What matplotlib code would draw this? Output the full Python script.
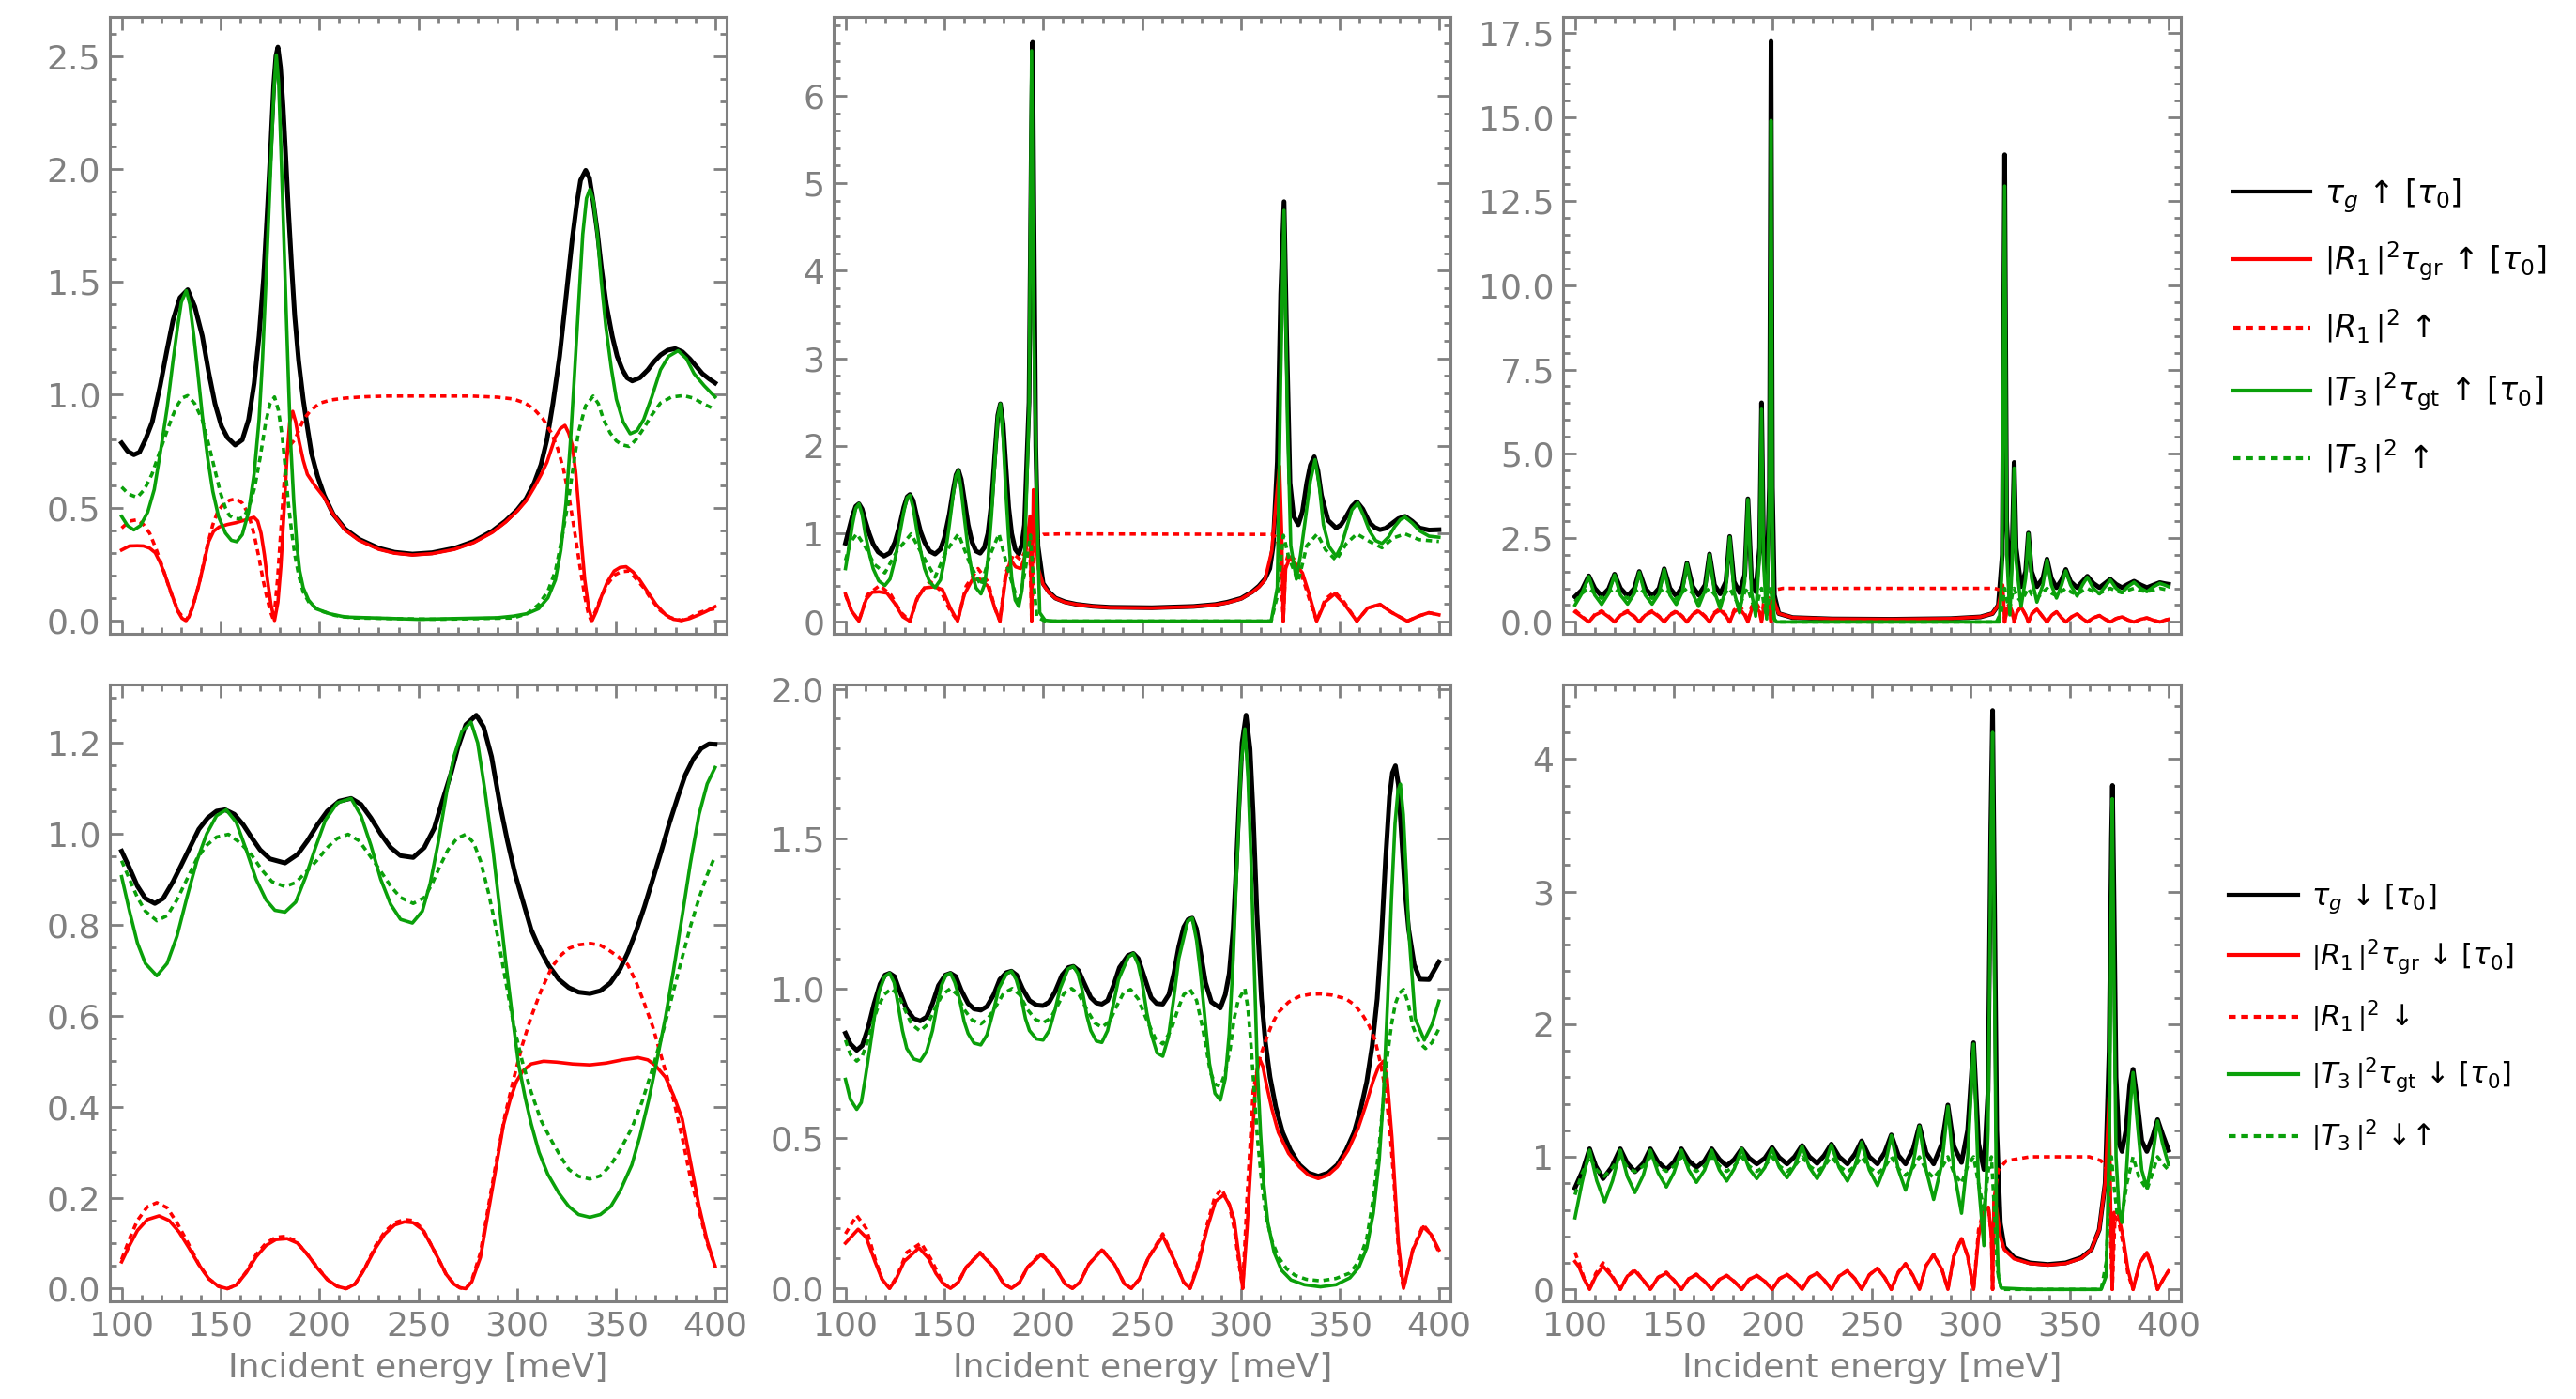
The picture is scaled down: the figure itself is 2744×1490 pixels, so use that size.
import numpy as np
import matplotlib
matplotlib.use("Agg")
import matplotlib.pyplot as plt
from matplotlib.lines import Line2D
from matplotlib.ticker import MultipleLocator

# Colours / styles
BLACK = "#000000"
RED = "#ff0000"
GREEN = "#0aa00a"
GRAY = "#808080"

# x ticks shared by all panels
x_major = 50
x_minor = 10
x_limits = (94, 406)

# ---------------- PANEL 1 (top left, spin up) ----------------
p1_tg = [(100, 0.786), (103, 0.75), (106.2, 0.734), (109, 0.745), (112, 0.8), (115.5, 0.88), (119.5, 1.04),
         (123, 1.2), (126, 1.33), (129.5, 1.43), (133.4, 1.465), (137, 1.39), (140.8, 1.26), (144, 1.1),
         (147.2, 0.96), (150.5, 0.86), (153.5, 0.81), (157.4, 0.777), (161, 0.8), (164.2, 0.89), (167, 1.05),
         (169.5, 1.26), (171.8, 1.52), (173.7, 1.82), (175.5, 2.12), (176.9, 2.375), (178, 2.5), (179, 2.54),
         (180.3, 2.45), (181.6, 2.28), (183, 2.05), (184.3, 1.82), (186, 1.56), (187.5, 1.35), (189.5, 1.15),
         (191.8, 0.98), (194, 0.85), (196, 0.74), (199, 0.64), (202.4, 0.554), (207, 0.47), (213, 0.405),
         (220, 0.36), (230, 0.32), (238, 0.302), (247, 0.294), (257, 0.3), (268.3, 0.32), (278, 0.35),
         (287.4, 0.396), (294, 0.44), (300, 0.49), (304.5, 0.54), (308.6, 0.61), (312, 0.69), (315, 0.80),
         (318, 0.96), (321.4, 1.17), (324.5, 1.42), (327.8, 1.69), (330, 1.84), (332, 1.95), (334.6, 1.994),
         (336.5, 1.96), (338.4, 1.855), (340.5, 1.72), (342.6, 1.557), (345, 1.4), (348, 1.26), (350.5, 1.17),
         (353.2, 1.11), (355.5, 1.075), (358.1, 1.061), (362, 1.075), (366, 1.11), (369, 1.145), (372.4, 1.176),
         (376, 1.197), (379.8, 1.204), (383.5, 1.19), (387.3, 1.158), (390.5, 1.125), (393.6, 1.093),
         (397, 1.07), (400, 1.052)]
p1_rtau = [(100, 0.312), (104, 0.33), (107.9, 0.331), (111, 0.33), (114.2, 0.32), (117, 0.3), (119.5, 0.256),
           (122, 0.2), (124.9, 0.126), (128.5, 0.04), (130.5, 0.01), (132.3, 0.0), (134, 0.015), (135.5, 0.05),
           (138.7, 0.145), (141.5, 0.25), (144, 0.349), (146.5, 0.395), (149.3, 0.414), (153.5, 0.425),
           (157.8, 0.433), (162.5, 0.445), (166.9, 0.457), (168.8, 0.44), (170.5, 0.386), (172.2, 0.29),
           (173.7, 0.182), (175.5, 0.07), (177.3, 0.0), (179, 0.08), (180.5, 0.238), (182.2, 0.5), (183.7, 0.74),
           (185, 0.88), (186.5, 0.926), (188, 0.88), (189.7, 0.795), (191.8, 0.71), (193.9, 0.647), (197.5, 0.6),
           (202.4, 0.545), (207, 0.47), (213, 0.4), (220, 0.355), (230, 0.315), (238, 0.298), (247, 0.29),
           (257, 0.296), (268.3, 0.315), (278, 0.345), (287.4, 0.39), (294, 0.435), (300, 0.485), (304.5, 0.53),
           (308.6, 0.59), (312, 0.645), (315, 0.70), (319.3, 0.814), (321.8, 0.85), (324.1, 0.864), (326, 0.83),
           (327.8, 0.777), (329.5, 0.66), (330.9, 0.517), (332.5, 0.34), (334.1, 0.182), (336, 0.06),
           (337.9, 0.0), (340, 0.04), (342.6, 0.108), (345.5, 0.17), (349, 0.219), (352, 0.235), (355, 0.238),
           (358.5, 0.215), (361.7, 0.182), (366, 0.125), (370.2, 0.07), (375, 0.025), (379, 0.005), (383, 0.0),
           (387, 0.008), (391.5, 0.024), (395.5, 0.04), (400, 0.061)]
p1_rsq = [(100, 0.409), (104, 0.44), (107.9, 0.446), (111, 0.425), (114.2, 0.386), (117.5, 0.315), (120.6, 0.238),
          (123.5, 0.16), (125.9, 0.099), (129, 0.035), (132.7, 0.0), (136, 0.06), (139.7, 0.182), (143, 0.32),
          (146.1, 0.424), (148.5, 0.48), (151, 0.51), (154.5, 0.532), (157.8, 0.539), (161, 0.52), (164.2, 0.47),
          (167, 0.38), (169.5, 0.275), (171.5, 0.18), (173.5, 0.1), (175.2, 0.04), (176.9, 0.0), (178.8, 0.18),
          (180.7, 0.424), (182.2, 0.62), (183.7, 0.74), (185.5, 0.78), (187.5, 0.80), (189.5, 0.84),
          (191.8, 0.888), (195.5, 0.93), (200.3, 0.963), (206, 0.977), (213, 0.985), (223, 0.991), (234.3, 0.994),
          (276.8, 0.994), (290, 0.989), (298, 0.981), (304, 0.963), (308.6, 0.935), (313, 0.893), (317.1, 0.833),
          (320.5, 0.76), (323.5, 0.665), (326.3, 0.54), (328.8, 0.405), (331.5, 0.25), (334.1, 0.108),
          (335.8, 0.035), (337.3, 0.0), (339.5, 0.04), (342.6, 0.108), (346, 0.165), (349, 0.2), (352.5, 0.216),
          (356.5, 0.219), (360, 0.185), (363.9, 0.145), (368, 0.09), (372.4, 0.043), (377, 0.013), (383, 0.0),
          (387, 0.012), (391.5, 0.033), (395.5, 0.045), (400, 0.052)]
p1_ttau = [(100, 0.461), (103, 0.42), (106.2, 0.401), (109.5, 0.42), (113.2, 0.48), (116.5, 0.58), (119.5, 0.74),
           (123, 0.94), (126, 1.15), (128.3, 1.3), (130.2, 1.41), (132.7, 1.461), (134.5, 1.4), (136.5, 1.26),
           (138.5, 1.1), (140.8, 0.907), (143.5, 0.72), (146.1, 0.572), (149, 0.46), (152.5, 0.387),
           (155.5, 0.355), (158.2, 0.349), (161, 0.38), (164.2, 0.48), (167, 0.65), (169.5, 0.89), (171.2, 1.15),
           (172.7, 1.446), (174.3, 1.78), (175.8, 2.10), (177, 2.35), (178.2, 2.505), (179.4, 2.38), (180.5, 2.10),
           (181.7, 1.78), (182.9, 1.446), (184.2, 1.1), (185.4, 0.795), (187, 0.53), (188.6, 0.331), (190, 0.22),
           (191.8, 0.145), (194.5, 0.09), (198.2, 0.052), (205, 0.03), (213, 0.015), (250, 0.005), (290, 0.012),
           (298, 0.019), (305, 0.03), (310.8, 0.052), (315.5, 0.1), (319.3, 0.18), (322, 0.31), (324.6, 0.517),
           (326.8, 0.78), (328.8, 1.07), (331, 1.4), (333.1, 1.71), (335, 1.87), (336.7, 1.91), (338.5, 1.86),
           (340.5, 1.71), (342.5, 1.5), (344.8, 1.30), (347.5, 1.12), (350.1, 0.98), (353.5, 0.88),
           (357.1, 0.827), (360.5, 0.84), (363.9, 0.89), (368, 0.99), (372.4, 1.11), (376.5, 1.17),
           (381.3, 1.195), (385.5, 1.16), (389.4, 1.093), (394.5, 1.04), (400, 0.99)]
p1_tsq = [(100, 0.591), (103.5, 0.56), (107.9, 0.545), (111.5, 0.58), (115.3, 0.647), (119, 0.74), (122.7, 0.833),
          (125.5, 0.9), (128, 0.95), (130.5, 0.985), (133.4, 0.996), (137, 0.96), (140.8, 0.888), (144, 0.78),
          (147.2, 0.665), (150, 0.565), (152.5, 0.498), (154.5, 0.465), (156.7, 0.452), (159.5, 0.45),
          (162, 0.46), (164.7, 0.51), (167.3, 0.59), (170, 0.72), (172.7, 0.87), (175, 0.96), (177.3, 0.99),
          (179.3, 0.93), (181.2, 0.814), (182.8, 0.67), (184.3, 0.517), (186, 0.39), (187.5, 0.294), (189.5, 0.2),
          (191.8, 0.126), (195, 0.075), (200.3, 0.043), (208, 0.022), (217.3, 0.011), (260, 0.005), (298, 0.011),
          (305, 0.03), (310.8, 0.07), (315.5, 0.13), (319.3, 0.22), (322.5, 0.36), (325.6, 0.517), (328.3, 0.68),
          (330.9, 0.833), (334.5, 0.95), (338.4, 0.994), (341, 0.96), (343.7, 0.888), (347, 0.83), (350.1, 0.795),
          (353, 0.778), (356.5, 0.771), (360, 0.8), (363.9, 0.851), (368, 0.91), (372.4, 0.963), (378, 0.99),
          (384.1, 0.996), (389, 0.985), (394, 0.96), (400, 0.935)]

# ---------------- PANEL 2 (top middle, spin up) ----------------
p2_tg = [(100, 0.89), (101.8, 1.05), (103.5, 1.2), (105.2, 1.31), (106.8, 1.34), (108.4, 1.28), (110, 1.15),
         (112, 1.0), (114, 0.88), (116.5, 0.79), (119.5, 0.742), (122.5, 0.78), (125, 0.9), (127.5, 1.1),
         (129.5, 1.3), (131.2, 1.42), (132.6, 1.446), (134.2, 1.38), (136, 1.2), (138, 1.02), (140, 0.9),
         (142.5, 0.8), (145.3, 0.766), (148, 0.82), (150, 0.95), (152.5, 1.22), (154.5, 1.5), (155.9, 1.67),
         (157.1, 1.724), (158.5, 1.62), (160, 1.4), (162, 1.1), (164, 0.9), (166, 0.8), (168.1, 0.776),
         (170.2, 0.84), (172, 1.0), (173.8, 1.35), (175.5, 1.9), (177, 2.35), (178.3, 2.481), (179.7, 2.25),
         (181, 1.8), (182.5, 1.3), (184, 1.0), (185.8, 0.82), (187.6, 0.766), (189.2, 0.88), (190.5, 1.1),
         (192.8, 2.5), (194.0, 5.5), (194.6, 6.609), (195.3, 4.5), (196.2, 2.0), (197.3, 0.86), (199.9, 0.431),
         (203, 0.33), (206.2, 0.263), (211, 0.22), (216.8, 0.192), (225, 0.17), (233.7, 0.158), (254.9, 0.153),
         (276, 0.168), (287, 0.19), (293, 0.216), (300, 0.26), (305.6, 0.335), (309, 0.4), (312, 0.479),
         (314.5, 0.6), (316.2, 0.862), (318.3, 1.82), (320, 3.736), (321.7, 4.789), (323, 3.257), (324.7, 1.58),
         (326.5, 1.2), (328.9, 1.10), (331, 1.25), (333.2, 1.58), (335, 1.78), (337, 1.877), (338.8, 1.72),
         (340.6, 1.437), (344, 1.15), (348, 1.063), (350.5, 1.1), (353.2, 1.197), (356, 1.31), (358.5, 1.365),
         (361.5, 1.28), (364.9, 1.125), (367.5, 1.07), (370.2, 1.044), (373, 1.06), (376, 1.11), (379.5, 1.17),
         (382.9, 1.197), (386.5, 1.14), (390.3, 1.063), (395, 1.04), (400, 1.044)]
p2_rtau = [(100, 0.311), (103, 0.12), (106.8, 0.0), (110.5, 0.25), (113.5, 0.33), (117, 0.335), (121, 0.32),
           (125, 0.2), (129, 0.05), (132.6, 0.0), (136, 0.25), (140, 0.38), (145, 0.393), (149, 0.36), (153, 0.15),
           (156.7, 0.0), (160, 0.3), (164, 0.47), (168, 0.479), (172, 0.4), (175.5, 0.15), (178.1, 0.0), (181, 0.5),
           (183.5, 0.7), (186, 0.62), (188.5, 0.6), (191, 0.75), (193.3, 1.2), (194.1, 0.0), (195.0, 1.5),
           (196, 1.0), (197.5, 0.6), (199.9, 0.42), (203, 0.32), (206.2, 0.26), (211, 0.215), (216.8, 0.19),
           (225, 0.168), (233.7, 0.155), (254.9, 0.15), (276, 0.165), (287, 0.187), (293, 0.21), (300, 0.255),
           (305.6, 0.33), (309, 0.39), (312, 0.47), (315.5, 0.8), (317.8, 1.4), (319.4, 1.77), (320.5, 1.0),
           (321.3, 0.0), (322.5, 0.6), (324.5, 0.72), (327.8, 0.65), (331, 0.55), (334.5, 0.3), (338.2, 0.0),
           (342.5, 0.22), (347.3, 0.311), (352, 0.2), (358.5, 0.0), (364, 0.15), (370.2, 0.192), (376, 0.1),
           (384, 0.0), (390, 0.06), (394.9, 0.096), (400, 0.072)]
p2_rsq = [(100, 0.3), (103, 0.12), (106.8, 0.0), (111, 0.3), (117.3, 0.407), (123, 0.3), (128, 0.1), (132.6, 0.0),
          (137, 0.3), (142.7, 0.455), (148, 0.35), (153, 0.12), (156.7, 0.0), (161, 0.4), (167, 0.6), (172, 0.45),
          (175.5, 0.15), (178.1, 0.0), (181, 0.55), (185, 0.766), (188.5, 0.7), (191, 0.8), (193.2, 0.9),
          (194.1, 0.0), (195.3, 0.8), (197, 0.95), (199.9, 0.99), (210, 0.996), (316, 0.99), (318, 0.95),
          (319.5, 0.8), (320.5, 0.4), (321.3, 0.0), (322.5, 0.65), (324, 0.78), (327, 0.7), (331, 0.5),
          (334.5, 0.25), (338.2, 0.0), (342.5, 0.25), (347.3, 0.335), (352, 0.22), (358.5, 0.0), (364, 0.15),
          (370.2, 0.19), (376, 0.1), (384, 0.0), (390, 0.06), (394.9, 0.096), (400, 0.072)]
p2_ttau = [(100, 0.6), (101.8, 0.85), (103.5, 1.1), (105.2, 1.29), (106.8, 1.34), (108.4, 1.22), (110, 1.0),
           (112, 0.78), (114, 0.6), (116.8, 0.46), (119.9, 0.407), (122.5, 0.48), (125, 0.7), (127.3, 0.98),
           (129.5, 1.25), (131.2, 1.41), (132.6, 1.437), (134.2, 1.3), (136, 1.05), (138, 0.8), (140, 0.6),
           (142.5, 0.45), (145.3, 0.383), (148, 0.47), (150, 0.7), (152.4, 1.08), (154.5, 1.45), (155.9, 1.66),
           (157.1, 1.715), (158.5, 1.5), (160, 1.2), (162, 0.82), (164, 0.55), (166, 0.38), (168.5, 0.311),
           (170.3, 0.42), (172, 0.7), (173.8, 1.2), (175.5, 1.8), (177, 2.33), (178.3, 2.481), (179.7, 2.1),
           (181, 1.5), (182.5, 0.95), (184, 0.5), (185.8, 0.24), (187.6, 0.168), (189.2, 0.35), (190.5, 0.7),
           (192.8, 2.4), (194.1, 6.513), (195.1, 3.5), (196.7, 1.34), (198.2, 0.096), (200.9, 0.01), (205, 0.0),
           (315.2, 0.0), (318.3, 0.383), (320, 2.78), (321.7, 4.69), (323.4, 2.30), (325.1, 0.862), (327.9, 0.479),
           (330, 0.75), (332.1, 1.10), (335, 1.6), (337.4, 1.844), (339.5, 1.55), (341.6, 1.10), (344.5, 0.85),
           (348, 0.742), (350.5, 0.85), (353.2, 1.054), (356, 1.27), (359, 1.35), (362, 1.2), (364.9, 1.03),
           (368, 0.92), (371.2, 0.886), (374.5, 0.96), (377.6, 1.078), (380.5, 1.16), (382.9, 1.188),
           (386.5, 1.12), (390.3, 1.03), (395, 0.97), (400, 0.958)]
p2_tsq = [(100, 0.694), (102.5, 0.9), (105.7, 0.996), (110, 0.85), (114.5, 0.65), (119.9, 0.551), (126, 0.8),
          (133.2, 0.996), (139, 0.75), (145.3, 0.503), (151, 0.8), (157.1, 0.996), (163, 0.65), (168.5, 0.407),
          (173, 0.75), (177.6, 0.996), (182, 0.6), (187.6, 0.192), (191, 0.6), (193.5, 0.982), (194.6, 0.6),
          (196.7, 0.05), (200.9, 0.0), (315.2, 0.0), (318.3, 0.287), (321.4, 0.98), (324.2, 0.718), (328.9, 0.455),
          (333.2, 0.862), (338.5, 0.996), (342.7, 0.814), (348, 0.694), (353.2, 0.886), (358.5, 0.996),
          (364.9, 0.91), (371.2, 0.838), (377, 0.95), (382.9, 0.996), (390, 0.93), (400, 0.91)]

# ---------------- PANEL 3 (top right, spin up) ----------------
p3_tg = [(100, 0.75), (103.5, 0.95), (107, 1.37), (110, 1.0), (113.5, 0.77), (117, 0.98), (120, 1.42), (123, 1.0),
         (126.6, 0.77), (130, 1.0), (132.5, 1.5), (135.5, 1.0), (139, 0.77), (142.5, 1.0), (145.1, 1.58),
         (148, 1.0), (151.2, 0.77), (154.3, 1.05), (156.6, 1.75), (159.5, 1.05), (162.5, 0.8), (165.8, 1.1),
         (168, 2.02), (170.5, 1.1), (173.4, 0.835), (176.3, 1.2), (178.2, 2.54), (180.4, 1.2), (183.2, 0.87),
         (185.8, 1.4), (187.4, 3.66), (189.2, 1.3), (191.3, 0.9), (193.3, 2.2), (194.3, 6.51), (195.3, 2.2),
         (196.9, 0.95), (198.3, 4.0), (199.1, 17.25), (199.8, 4.0), (200.8, 0.8), (203, 0.25), (210, 0.13),
         (230, 0.09), (260, 0.08), (290, 0.1), (305, 0.15), (311, 0.25), (314, 0.5), (316, 2.0), (317.2, 13.88),
         (318.2, 3.0), (319.8, 1.08), (321, 2.2), (322, 4.74), (323, 2.2), (325.5, 1.05), (327.8, 1.5),
         (329.2, 2.64), (330.8, 1.5), (333.5, 1.05), (336.5, 1.3), (338.6, 1.87), (340.8, 1.3), (343.4, 1.02),
         (346, 1.25), (348.1, 1.56), (350.5, 1.2), (353.8, 1.02), (356.5, 1.2), (359, 1.36), (362, 1.15),
         (365.1, 1.02), (368, 1.15), (370.6, 1.27), (373.5, 1.12), (376.5, 1.02), (379.5, 1.12), (382.6, 1.21),
         (386, 1.1), (389.1, 1.02), (392.5, 1.1), (395.6, 1.17), (398, 1.14), (400, 1.12)]
p3_rtau = [(100, 0.3), (103.5, 0.15), (107, 0.0), (110, 0.2), (113.5, 0.3), (117, 0.15), (120, 0.0), (123, 0.2),
           (126.6, 0.3), (130, 0.15), (132.5, 0.0), (135.5, 0.2), (139, 0.3), (142.5, 0.15), (145.1, 0.0),
           (148, 0.2), (151.2, 0.3), (154.3, 0.15), (156.6, 0.0), (159.5, 0.22), (162.5, 0.32), (165.8, 0.15),
           (168, 0.0), (170.5, 0.25), (173.4, 0.35), (176.3, 0.18), (178.2, 0.0), (180.4, 0.3), (183.2, 0.4),
           (185.8, 0.2), (187.4, 0.0), (189.2, 0.35), (191.3, 0.45), (193.3, 0.3), (194.3, 0.0), (195.3, 0.4),
           (196.9, 0.5), (198.3, 0.6), (199.1, 0.0), (199.8, 0.9), (200.8, 0.6), (203, 0.25), (210, 0.13),
           (230, 0.09), (260, 0.08), (290, 0.1), (305, 0.15), (311, 0.25), (314, 0.5), (316.2, 1.1), (317.2, 0.0),
           (318.5, 0.4), (319.8, 0.5), (321, 0.3), (322, 0.0), (323.5, 0.3), (325.5, 0.45), (327.8, 0.2),
           (329.2, 0.0), (331, 0.25), (333.5, 0.38), (336.5, 0.15), (338.6, 0.0), (341, 0.2), (343.4, 0.3),
           (346, 0.12), (348.1, 0.0), (351, 0.15), (353.8, 0.24), (356.5, 0.1), (359, 0.0), (362, 0.12),
           (365.1, 0.19), (368, 0.08), (370.6, 0.0), (373.5, 0.1), (376.5, 0.15), (379.5, 0.06), (382.6, 0.0),
           (386, 0.08), (389.1, 0.12), (392.5, 0.05), (395.6, 0.0), (398, 0.05), (400, 0.08)]
p3_rsq = [(100, 0.35), (103.5, 0.17), (107, 0.0), (110, 0.22), (113.5, 0.33), (117, 0.17), (120, 0.0), (123, 0.22),
          (126.6, 0.33), (130, 0.17), (132.5, 0.0), (135.5, 0.22), (139, 0.33), (142.5, 0.17), (145.1, 0.0),
          (148, 0.22), (151.2, 0.33), (154.3, 0.17), (156.6, 0.0), (159.5, 0.24), (162.5, 0.35), (165.8, 0.17),
          (168, 0.0), (170.5, 0.28), (173.4, 0.4), (176.3, 0.2), (178.2, 0.0), (180.4, 0.35), (183.2, 0.5),
          (185.8, 0.25), (187.4, 0.0), (189.2, 0.45), (191.3, 0.6), (193.3, 0.4), (194.3, 0.0), (195.3, 0.55),
          (196.9, 0.75), (198.3, 0.7), (199.1, 0.0), (199.8, 0.8), (201, 0.95), (205, 1.0), (312, 1.0),
          (315, 0.95), (316.5, 0.6), (317.2, 0.0), (318.5, 0.45), (319.8, 0.55), (321, 0.3), (322, 0.0),
          (323.5, 0.3), (325.5, 0.45), (327.8, 0.2), (329.2, 0.0), (331, 0.25), (333.5, 0.38), (336.5, 0.15),
          (338.6, 0.0), (341, 0.2), (343.4, 0.3), (346, 0.12), (348.1, 0.0), (351, 0.15), (353.8, 0.24),
          (356.5, 0.1), (359, 0.0), (362, 0.12), (365.1, 0.19), (368, 0.08), (370.6, 0.0), (373.5, 0.1),
          (376.5, 0.15), (379.5, 0.06), (382.6, 0.0), (386, 0.08), (389.1, 0.12), (392.5, 0.05), (395.6, 0.0),
          (398, 0.05), (400, 0.08)]
p3_ttau = [(100, 0.5), (103.5, 0.85), (107, 1.35), (110, 0.8), (113.5, 0.52), (117, 0.85), (120, 1.4), (123, 0.8),
           (126.6, 0.53), (130, 0.85), (132.5, 1.48), (135.5, 0.8), (139, 0.53), (142.5, 0.85), (145.1, 1.56),
           (148, 0.8), (151.2, 0.52), (154.3, 0.9), (156.6, 1.73), (159.5, 0.85), (162.5, 0.46), (165.8, 0.95),
           (168, 2.0), (170.5, 0.9), (173.4, 0.4), (176.3, 1.0), (178.2, 2.52), (180.4, 0.9), (183.2, 0.27),
           (185.8, 1.2), (187.4, 3.64), (189.2, 0.9), (191.3, 0.17), (193.3, 2.0), (194.3, 6.32), (195.3, 1.8),
           (196.9, 0.09), (198.3, 3.8), (199.1, 14.9), (199.8, 3.0), (200.6, 0.1), (202, 0.0), (314.5, 0.0),
           (315.8, 1.5), (317.2, 12.95), (318.3, 2.0), (319.8, 0.21), (321, 1.8), (322, 4.57), (323, 1.8),
           (325.5, 0.46), (327.8, 1.3), (329.2, 2.62), (330.8, 1.3), (333.5, 0.59), (336.5, 1.1), (338.6, 1.84),
           (340.8, 1.1), (343.4, 0.71), (346, 1.1), (348.1, 1.52), (350.5, 1.1), (353.8, 0.77), (356.5, 1.1),
           (359, 1.33), (362, 1.0), (365.1, 0.835), (368, 1.05), (370.6, 1.25), (373.5, 1.0), (376.5, 0.87),
           (379.5, 1.05), (382.6, 1.18), (386, 1.0), (389.1, 0.9), (392.5, 1.05), (395.6, 1.15), (398, 1.1),
           (400, 1.05)]
p3_tsq = [(100, 0.6), (103.5, 0.85), (107, 1.0), (110, 0.85), (113.5, 0.7), (117, 0.88), (120, 1.0), (123, 0.85),
          (126.6, 0.7), (130, 0.88), (132.5, 1.0), (135.5, 0.85), (139, 0.7), (142.5, 0.88), (145.1, 1.0),
          (148, 0.85), (151.2, 0.68), (154.3, 0.88), (156.6, 1.0), (159.5, 0.85), (162.5, 0.65), (165.8, 0.88),
          (168, 1.0), (170.5, 0.82), (173.4, 0.58), (176.3, 0.88), (178.2, 1.0), (180.4, 0.75), (183.2, 0.45),
          (185.8, 0.88), (187.4, 1.0), (189.2, 0.65), (191.3, 0.3), (193.3, 0.85), (194.3, 1.0), (195.3, 0.6),
          (196.9, 0.15), (198.3, 0.8), (199.1, 1.0), (199.8, 0.4), (201, 0.05), (204, 0.0), (313, 0.0),
          (315.5, 0.3), (317.2, 1.0), (318.5, 0.6), (319.8, 0.4), (321, 0.8), (322, 1.0), (323.5, 0.75),
          (325.5, 0.6), (327.8, 0.85), (329.2, 1.0), (331, 0.8), (333.5, 0.7), (336.5, 0.88), (338.6, 1.0),
          (341, 0.85), (343.4, 0.78), (346, 0.9), (348.1, 1.0), (351, 0.88), (353.8, 0.82), (356.5, 0.92),
          (359, 1.0), (362, 0.9), (365.1, 0.85), (368, 0.93), (370.6, 1.0), (373.5, 0.92), (376.5, 0.87),
          (379.5, 0.94), (382.6, 1.0), (386, 0.93), (389.1, 0.9), (392.5, 0.95), (395.6, 1.0), (398, 0.97),
          (400, 0.95)]

# ---------------- PANEL 4 (bottom left, spin down) ----------------
p4_tg = [(100, 0.962), (104, 0.925), (108, 0.885), (112, 0.858), (116.8, 0.847), (121, 0.858), (126, 0.895),
         (130, 0.93), (134.5, 0.97), (139, 1.01), (143.5, 1.035), (148, 1.05), (152.3, 1.053), (157, 1.043),
         (161.5, 1.02), (166, 0.99), (170, 0.965), (175, 0.945), (182.6, 0.936), (189, 0.955), (194, 0.985),
         (199, 1.02), (204, 1.05), (210, 1.072), (216, 1.078), (221, 1.065), (226, 1.035), (231, 1.0),
         (236, 0.97), (241, 0.952), (247.4, 0.948), (253, 0.97), (258, 1.012), (262, 1.07), (266.6, 1.134),
         (270, 1.19), (274, 1.24), (279.3, 1.261), (283, 1.235), (287, 1.17), (291, 1.07), (295, 0.985),
         (299, 0.91), (303, 0.85), (307, 0.79), (311, 0.75), (316, 0.71), (321, 0.68), (326, 0.662), (331, 0.652),
         (336.7, 0.649), (342, 0.655), (347, 0.672), (352, 0.703), (356, 0.74), (360, 0.785), (364.3, 0.84),
         (368.5, 0.9), (372.8, 0.962), (377, 1.025), (381.3, 1.083), (385, 1.13), (389, 1.165), (393, 1.188),
         (397, 1.198), (400, 1.197)]
p4_rtau = [(100, 0.059), (104, 0.095), (108, 0.128), (113, 0.152), (118.9, 0.16), (124, 0.15), (129, 0.125),
           (134, 0.09), (139, 0.053), (144, 0.022), (149, 0.005), (153.5, 0.0), (158, 0.008), (163, 0.035),
           (168, 0.07), (173, 0.095), (178, 0.108), (183.7, 0.11), (189, 0.1), (194, 0.075), (199, 0.045),
           (204, 0.02), (209, 0.005), (213.5, 0.0), (218, 0.01), (223, 0.045), (228.3, 0.089), (233, 0.12),
           (238, 0.14), (243, 0.147), (247.4, 0.145), (252, 0.13), (256, 0.1), (260.2, 0.065), (264, 0.032),
           (268, 0.01), (271, 0.002), (274, 0.0), (277, 0.015), (281.4, 0.069), (285, 0.16), (289.9, 0.282),
           (293, 0.36), (296.3, 0.414), (299.5, 0.455), (302.7, 0.478), (307, 0.494), (313.3, 0.5), (320, 0.498),
           (328, 0.494), (336.7, 0.492), (345, 0.496), (353, 0.503), (361.1, 0.508), (366, 0.503), (370, 0.49),
           (374.9, 0.465), (379, 0.425), (383.4, 0.373), (387.5, 0.28), (391.9, 0.181), (396, 0.105), (400, 0.049)]
p4_rsq = [(100, 0.064), (104, 0.11), (108, 0.15), (113, 0.18), (117.8, 0.189), (123, 0.178), (128, 0.145),
          (133, 0.105), (139, 0.054), (144, 0.022), (149, 0.005), (153.5, 0.0), (158, 0.008), (163, 0.037),
          (168, 0.075), (173, 0.1), (178, 0.113), (182.6, 0.115), (188, 0.105), (193, 0.08), (198.6, 0.049),
          (204, 0.02), (209, 0.005), (213.5, 0.0), (218, 0.01), (223, 0.045), (228.3, 0.094), (233, 0.125),
          (238, 0.145), (243, 0.152), (247, 0.15), (252, 0.133), (256, 0.1), (260.2, 0.065), (264, 0.032),
          (268, 0.01), (271, 0.002), (274, 0.0), (277, 0.018), (281.4, 0.079), (285, 0.17), (289.9, 0.292),
          (294, 0.385), (298.4, 0.465), (302.5, 0.535), (306.9, 0.596), (312, 0.655), (317.6, 0.708), (322, 0.733),
          (326, 0.748), (331, 0.756), (337.1, 0.759), (342, 0.755), (346, 0.745), (351, 0.73), (355.8, 0.713),
          (360, 0.675), (364, 0.63), (368.5, 0.576), (373.5, 0.5), (379.1, 0.414), (383.5, 0.33), (387.7, 0.241),
          (392, 0.17), (396, 0.1), (400, 0.049)]
p4_ttau = [(100, 0.906), (104, 0.83), (108, 0.76), (112, 0.715), (117.8, 0.688), (123, 0.715), (128, 0.775),
           (133, 0.86), (138, 0.94), (143, 1.0), (148, 1.04), (152.9, 1.053), (158, 1.025), (163, 0.965),
           (168, 0.9), (173, 0.855), (177.5, 0.832), (182.6, 0.828), (188, 0.85), (193, 0.905), (198, 0.97),
           (203, 1.03), (209, 1.068), (216, 1.078), (221, 1.04), (226, 0.975), (231, 0.9), (236, 0.845),
           (241, 0.812), (247, 0.804), (252, 0.83), (256, 0.891), (260, 0.98), (264.4, 1.094), (268, 1.17),
           (272, 1.225), (276.6, 1.246), (280, 1.2), (283.5, 1.1), (287.8, 0.962), (291, 0.84), (294.2, 0.718),
           (297.5, 0.6), (300.6, 0.495), (304, 0.42), (307, 0.363), (311, 0.3), (315.4, 0.252), (321, 0.21),
           (326, 0.181), (331, 0.163), (336.7, 0.157), (342, 0.163), (347.3, 0.181), (352, 0.215), (357.9, 0.272),
           (362, 0.335), (366.4, 0.414), (370.5, 0.5), (374.9, 0.596), (379, 0.7), (383.4, 0.82), (387.5, 0.935),
           (391.9, 1.043), (396, 1.11), (400, 1.146)]
p4_tsq = [(100, 0.941), (104, 0.9), (108, 0.86), (112, 0.83), (117.8, 0.809), (123, 0.82), (128, 0.855),
          (133, 0.9), (138, 0.945), (143, 0.975), (148, 0.993), (154, 0.999), (160, 0.98), (166, 0.952),
          (171, 0.92), (176, 0.895), (182.6, 0.884), (188, 0.893), (193, 0.915), (198.6, 0.941), (204, 0.97),
          (209, 0.99), (214.5, 0.999), (220, 0.985), (225, 0.955), (230.5, 0.921), (236, 0.885), (241, 0.86),
          (247.4, 0.847), (253, 0.86), (257, 0.89), (261, 0.93), (265, 0.965), (269.5, 0.99), (274, 0.999),
          (278, 0.98), (281.4, 0.941), (285.5, 0.87), (289.9, 0.779), (294, 0.68), (298.4, 0.576), (302.5, 0.5),
          (306.9, 0.434), (312, 0.37), (317.6, 0.323), (322, 0.29), (326.1, 0.262), (331, 0.247), (336.7, 0.241),
          (342, 0.248), (347.3, 0.272), (352, 0.305), (357.9, 0.353), (363, 0.41), (368.5, 0.485), (374, 0.57),
          (379.1, 0.657), (383.5, 0.73), (387.7, 0.799), (392, 0.86), (396, 0.91), (400, 0.951)]

# ---------------- PANEL 5 (bottom middle, spin down) ----------------
p5_tg = [(100, 0.851), (102.5, 0.815), (105.7, 0.794), (108.5, 0.81), (111.5, 0.87), (114.5, 0.95),
         (117.5, 1.015), (120, 1.045), (122.3, 1.051), (124.8, 1.04), (127.5, 0.99), (131, 0.93), (134.5, 0.9),
         (137.8, 0.892), (141, 0.905), (144, 0.95), (147, 1.01), (150.5, 1.045), (153.1, 1.051), (155.8, 1.04),
         (158.5, 0.995), (162, 0.95), (165, 0.932), (168.4, 0.928), (171.5, 0.94), (175, 0.98), (178, 1.03),
         (181.3, 1.053), (183.9, 1.058), (186.5, 1.045), (189.5, 1.0), (193, 0.96), (196.5, 0.945),
         (199.9, 0.943), (203, 0.955), (206, 0.99), (209.5, 1.045), (212.7, 1.07), (215.2, 1.074),
         (217.8, 1.06), (220.5, 1.02), (224, 0.97), (226.8, 0.952), (229.6, 0.948), (232.5, 0.96),
         (235.5, 1.01), (238.5, 1.07), (242.8, 1.11), (245.5, 1.117), (248, 1.1), (251, 1.04), (254.5, 0.97),
         (257.3, 0.95), (260.4, 0.948), (263.5, 0.98), (266, 1.05), (268.5, 1.14), (271, 1.205), (273.2, 1.23),
         (275.3, 1.235), (277.4, 1.2), (279.5, 1.12), (282, 1.02), (285, 0.955), (289.5, 0.935), (292, 0.98),
         (294, 1.05), (296, 1.2), (297.5, 1.4), (299, 1.62), (300.5, 1.82), (302.5, 1.912), (304.5, 1.8),
         (306.1, 1.582), (308, 1.25), (310.3, 0.966), (312.3, 0.82), (314.6, 0.705), (317.5, 0.605), (321, 0.52),
         (325, 0.46), (329.5, 0.412), (334, 0.385), (339, 0.374), (344, 0.385), (348.6, 0.412), (353, 0.46),
         (357.1, 0.52), (360.5, 0.6), (363.5, 0.689), (366.3, 0.81), (368.8, 0.966), (371, 1.18), (373, 1.428),
         (375, 1.64), (376.5, 1.72), (378, 1.743), (379.5, 1.68), (381, 1.52), (382.8, 1.33), (384.7, 1.197),
         (387.5, 1.08), (390.4, 1.031), (395, 1.03), (400, 1.089)]
p5_rtau = [(100, 0.151), (106.4, 0.197), (110.5, 0.17), (114.9, 0.09), (118.5, 0.03), (122.3, 0.0), (125.5, 0.03),
           (129.7, 0.09), (137.2, 0.135), (142, 0.1), (145.7, 0.05), (149.5, 0.015), (153.1, 0.0), (157, 0.02),
           (161, 0.07), (168, 0.117), (175, 0.07), (180, 0.015), (183.9, 0.0), (188, 0.02), (192, 0.07),
           (198.8, 0.112), (206, 0.07), (211, 0.015), (214.7, 0.0), (218.5, 0.02), (223, 0.08), (229.6, 0.128),
           (236, 0.08), (241, 0.015), (244.5, 0.0), (248.5, 0.03), (253, 0.1), (260.4, 0.174), (266.5, 0.09),
           (271, 0.02), (274.2, 0.0), (278, 0.07), (282.7, 0.197), (287, 0.29), (291.2, 0.312), (294, 0.28),
           (296.5, 0.228), (299, 0.1), (300.8, 0.0), (303, 0.2), (305, 0.428), (307.5, 0.7), (309.3, 0.766),
           (311, 0.74), (312.5, 0.689), (315.5, 0.6), (318.8, 0.52), (324, 0.45), (329.5, 0.405), (334, 0.378),
           (339, 0.366), (344, 0.378), (348.6, 0.405), (354, 0.46), (359.2, 0.535), (363, 0.61), (366.6, 0.689),
           (369.5, 0.74), (372, 0.758), (373.8, 0.7), (376.2, 0.505), (379.5, 0.15), (382.1, 0.0), (386.8, 0.128),
           (392.1, 0.205), (396, 0.18), (400, 0.128)]
p5_rsq = [(100, 0.182), (105.7, 0.243), (110.5, 0.2), (114.9, 0.1), (118.5, 0.03), (122.3, 0.0), (126, 0.04),
          (131, 0.12), (138.2, 0.151), (143, 0.1), (149, 0.02), (153.1, 0.0), (157, 0.02), (161, 0.07), (168, 0.12),
          (175, 0.07), (180, 0.015), (183.9, 0.0), (188, 0.02), (192, 0.07), (198.8, 0.117), (206, 0.07),
          (211, 0.015), (214.7, 0.0), (218.5, 0.02), (223, 0.08), (229.6, 0.131), (236, 0.08), (241, 0.015),
          (244.5, 0.0), (248.5, 0.03), (253, 0.1), (260.4, 0.182), (266.5, 0.09), (271, 0.02), (274.2, 0.0),
          (278, 0.08), (282.7, 0.21), (286.5, 0.3), (290.1, 0.332), (294, 0.28), (296.5, 0.2), (299, 0.08),
          (300.8, 0.0), (303, 0.3), (306.1, 0.658), (309, 0.76), (312.5, 0.828), (315.5, 0.88), (318.8, 0.92),
          (324, 0.955), (329.5, 0.974), (335, 0.981), (340.1, 0.982), (346, 0.978), (352.9, 0.966),
          (357.5, 0.945), (361.4, 0.912), (364.8, 0.875), (367.7, 0.828), (370.5, 0.75), (373, 0.658),
          (375.3, 0.52), (377.3, 0.351), (379, 0.18), (380.5, 0.06), (382.1, 0.0), (386.8, 0.13), (392.1, 0.212),
          (396, 0.18), (400, 0.12)]
p5_ttau = [(100, 0.697), (102.5, 0.63), (105.7, 0.597), (108, 0.62), (110, 0.7), (112.3, 0.8), (114.5, 0.9),
           (117, 0.99), (119.8, 1.04), (122.3, 1.051), (124.6, 1.02), (126.5, 0.95), (128.8, 0.86), (131, 0.8),
           (134.5, 0.765), (137.8, 0.758), (141, 0.79), (144, 0.86), (146.5, 0.95), (148.5, 1.01), (150.8, 1.045),
           (153.1, 1.051), (155.3, 1.02), (157.5, 0.97), (160, 0.89), (162, 0.85), (165, 0.818), (168.4, 0.812),
           (171.5, 0.845), (175, 0.93), (177.5, 1.0), (181.5, 1.05), (183.9, 1.058), (186.3, 1.03), (188.5, 0.98),
           (191, 0.9), (193, 0.86), (196.5, 0.832), (199.9, 0.828), (203, 0.86), (206, 0.93), (208.5, 1.0),
           (212.5, 1.065), (215.2, 1.074), (217.5, 1.05), (219.5, 1.0), (222, 0.91), (224, 0.86), (226.8, 0.825),
           (229.6, 0.82), (232.5, 0.86), (235.5, 0.95), (238, 1.03), (243, 1.105), (245.5, 1.117), (248, 1.08),
           (250, 1.02), (252.3, 0.92), (254.5, 0.85), (257.5, 0.785), (260.4, 0.774), (263.3, 0.84), (266, 0.97),
           (268.5, 1.1), (273, 1.225), (275.3, 1.235), (277.5, 1.16), (279.5, 1.05), (282, 0.88), (284, 0.75),
           (286.8, 0.65), (289.5, 0.628), (292, 0.7), (294, 0.85), (296, 1.1), (297.5, 1.35), (300, 1.75),
           (301.9, 1.866), (303.5, 1.7), (305, 1.428), (308.2, 0.735), (309.8, 0.52), (311.4, 0.351),
           (313.5, 0.22), (316.7, 0.12), (320.5, 0.06), (325.2, 0.028), (332, 0.012), (340.1, 0.005), (348, 0.012),
           (355, 0.035), (359.5, 0.07), (363.5, 0.135), (366.8, 0.25), (369.8, 0.428), (372, 0.65), (374.1, 0.966),
           (376, 1.3), (377.8, 1.55), (379.3, 1.66), (380.5, 1.682), (382, 1.58), (383.5, 1.38), (384.7, 1.197),
           (388, 0.9), (392.6, 0.828), (396.5, 0.88), (400, 0.958)]
p5_tsq = [(100, 0.828), (102.5, 0.78), (105.7, 0.758), (108.5, 0.775), (111, 0.82), (113.5, 0.88), (116, 0.93),
          (119.5, 0.98), (123.4, 1.0), (127, 0.975), (130, 0.93), (133.5, 0.88), (137.8, 0.858), (141.5, 0.88),
          (145, 0.93), (149, 0.98), (153.1, 1.0), (156.5, 0.98), (160, 0.93), (164, 0.895), (168.4, 0.882),
          (172, 0.9), (176, 0.94), (180, 0.985), (184.3, 1.0), (188, 0.98), (192, 0.93), (196, 0.897),
          (199.9, 0.886), (203.5, 0.9), (207, 0.94), (210.5, 0.985), (214.3, 1.0), (218, 0.98), (222, 0.93),
          (226, 0.885), (229.6, 0.871), (233.5, 0.89), (237, 0.94), (240.5, 0.985), (244.1, 0.997), (248, 0.965),
          (252, 0.9), (256.5, 0.835), (260.4, 0.815), (264.5, 0.86), (268, 0.93), (271, 0.98), (274.2, 0.997),
          (277.5, 0.96), (280.5, 0.87), (284.5, 0.72), (287, 0.68), (289.5, 0.674), (292, 0.72), (294.5, 0.8),
          (296.5, 0.9), (298.5, 0.96), (301.9, 1.0), (303.5, 0.93), (305, 0.812), (306.6, 0.66), (308.2, 0.505),
          (310.3, 0.36), (312.5, 0.243), (315.5, 0.16), (318.8, 0.105), (323, 0.065), (327.3, 0.043), (333, 0.03),
          (340.1, 0.025), (348, 0.033), (355, 0.051), (359.5, 0.09), (363.5, 0.166), (366.8, 0.3),
          (369.8, 0.474), (372, 0.64), (374.1, 0.782), (376, 0.88), (378, 0.95), (380, 0.985), (382.1, 0.997),
          (384.5, 0.95), (386.8, 0.874), (390, 0.82), (393.2, 0.8), (396.5, 0.82), (400, 0.866)]

# ---------------- PANEL 6 (bottom right, spin down) ----------------
p6_tg = [(100, 0.765), (104, 0.9), (107.4, 1.06), (110.5, 0.93), (114.2, 0.835), (118.5, 0.92), (122.9, 1.06),
         (126.5, 0.95), (130.3, 0.887), (134.5, 0.95), (138.1, 1.06), (142, 0.96), (146.2, 0.904), (150, 0.96),
         (153.8, 1.06), (157.5, 0.97), (161.4, 0.92), (165.5, 0.97), (169.1, 1.06), (173, 0.98), (176.7, 0.932),
         (180.5, 0.98), (184.3, 1.06), (188, 0.99), (191.9, 0.946), (196, 0.99), (199.6, 1.07), (203.2, 0.995),
         (207.2, 0.946), (211, 1.0), (214.8, 1.085), (218.5, 1.0), (222.4, 0.95), (226, 1.01), (229.6, 1.096),
         (233.5, 1.0), (237.7, 0.946), (241.5, 1.02), (244.9, 1.12), (248.8, 1.0), (252.9, 0.946), (256.5, 1.03),
         (259.9, 1.165), (263.5, 1.01), (267.1, 0.946), (271, 1.06), (274.1, 1.235), (277.5, 1.03), (281.3, 0.946),
         (285.5, 1.1), (288.5, 1.39), (291.5, 1.08), (295.4, 0.957), (298.5, 1.2), (301.5, 1.86), (304, 1.1),
         (306.7, 0.904), (308.8, 1.5), (310.2, 3.5), (311.1, 4.365), (312, 3.0), (313.2, 1.2), (315, 0.5),
         (317, 0.32), (322, 0.24), (330, 0.2), (339, 0.188), (348, 0.2), (356, 0.24), (361, 0.3), (365, 0.45),
         (368, 0.8), (370, 1.8), (371.2, 3.4), (371.7, 3.8), (372.4, 3.0), (373.5, 1.6), (375, 1.1),
         (376.5, 1.04), (378.5, 1.2), (380.5, 1.55), (382.1, 1.66), (384, 1.45), (386.5, 1.12), (389.1, 1.04),
         (392, 1.15), (394.5, 1.28), (397, 1.17), (400, 1.05)]
p6_rtau = [(100, 0.21), (102, 0.17), (104.5, 0.08), (107.4, 0.0), (110.5, 0.1), (114.2, 0.174), (118.5, 0.1),
           (122.9, 0.0), (126.5, 0.1), (130.3, 0.139), (134.5, 0.07), (138.1, 0.0), (142, 0.09), (146.2, 0.122),
           (150, 0.07), (153.8, 0.0), (157.5, 0.08), (161.4, 0.111), (165.5, 0.06), (169.1, 0.0), (173, 0.075),
           (176.7, 0.104), (180.5, 0.06), (184.3, 0.0), (188, 0.075), (191.9, 0.104), (196, 0.06), (199.6, 0.0),
           (203.3, 0.08), (207.2, 0.111), (211, 0.065), (214.8, 0.0), (218.5, 0.09), (222.4, 0.122), (226, 0.07),
           (229.6, 0.0), (233.5, 0.1), (237.7, 0.139), (241.5, 0.08), (244.9, 0.0), (248.8, 0.11), (252.9, 0.157),
           (256.5, 0.09), (259.9, 0.0), (263.5, 0.13), (267.1, 0.191), (271, 0.1), (274.1, 0.0), (277.5, 0.18),
           (281.3, 0.261), (285.5, 0.15), (288.5, 0.0), (291.5, 0.25), (295.4, 0.383), (298.5, 0.25), (301.5, 0.0),
           (304, 0.4), (306.7, 0.59), (309, 0.62), (310.5, 0.4), (311.1, 0.0), (311.8, 0.7), (313.2, 0.6),
           (315, 0.4), (317, 0.3), (322, 0.23), (330, 0.195), (339, 0.184), (348, 0.195), (356, 0.235), (361, 0.3),
           (365, 0.45), (368, 0.8), (370.0, 1.45), (370.8, 0.6), (371.6, 0.0), (372.5, 0.58), (374.5, 0.58),
           (377, 0.4), (379.5, 0.15), (382.1, 0.0), (385.5, 0.2), (389.1, 0.278), (392, 0.15), (394.5, 0.0),
           (397.5, 0.08), (400, 0.139)]
p6_rsq = [(100, 0.28), (102, 0.2), (104.5, 0.09), (107.4, 0.0), (110.5, 0.12), (114.2, 0.2), (118.5, 0.11),
          (122.9, 0.0), (126.5, 0.1), (130.3, 0.15), (134.5, 0.07), (138.1, 0.0), (142, 0.09), (146.2, 0.13),
          (150, 0.07), (153.8, 0.0), (157.5, 0.08), (161.4, 0.115), (165.5, 0.06), (169.1, 0.0), (173, 0.075),
          (176.7, 0.106), (180.5, 0.06), (184.3, 0.0), (188, 0.075), (191.9, 0.106), (196, 0.06), (199.6, 0.0),
          (203.3, 0.08), (207.2, 0.113), (211, 0.065), (214.8, 0.0), (218.5, 0.09), (222.4, 0.125), (226, 0.07),
          (229.6, 0.0), (233.5, 0.1), (237.7, 0.142), (241.5, 0.08), (244.9, 0.0), (248.8, 0.11), (252.9, 0.16),
          (256.5, 0.09), (259.9, 0.0), (263.5, 0.13), (267.1, 0.195), (271, 0.1), (274.1, 0.0), (277.5, 0.18),
          (281.3, 0.265), (285.5, 0.15), (288.5, 0.0), (291.5, 0.25), (295.4, 0.39), (298.5, 0.25), (301.5, 0.0),
          (304, 0.45), (306.7, 0.6), (309, 0.62), (310.5, 0.4), (311.1, 0.0), (312, 0.7), (314, 0.9), (318, 0.97),
          (330, 1.0), (360, 1.0), (366, 0.97), (369, 0.9), (370.5, 0.5), (371.6, 0.0), (373, 0.55), (375, 0.5),
          (377, 0.35), (379.5, 0.12), (382.1, 0.0), (385.5, 0.2), (389.1, 0.28), (392, 0.15), (394.5, 0.0),
          (397.5, 0.08), (400, 0.14)]
p6_ttau = [(100, 0.54), (103.5, 0.8), (107.4, 1.05), (111, 0.82), (115, 0.66), (119, 0.82), (122.9, 1.05),
           (126.5, 0.85), (130.3, 0.73), (134.5, 0.86), (138.1, 1.05), (142, 0.88), (146.2, 0.772), (150, 0.88),
           (153.8, 1.05), (157.5, 0.9), (161.4, 0.807), (165.5, 0.9), (169.1, 1.05), (173, 0.9), (176.7, 0.817),
           (180.5, 0.91), (184.3, 1.06), (188, 0.91), (191.9, 0.835), (196, 0.92), (199.6, 1.06), (203.3, 0.92),
           (207.2, 0.842), (211, 0.93), (214.8, 1.08), (218.5, 0.92), (222.4, 0.835), (226, 0.93), (229.6, 1.09),
           (233.5, 0.92), (237.7, 0.817), (241.5, 0.93), (244.9, 1.11), (248.8, 0.9), (252.9, 0.783),
           (256.5, 0.92), (259.9, 1.16), (263.5, 0.9), (267.1, 0.748), (271, 0.95), (274.1, 1.23), (277.5, 0.9),
           (281.3, 0.678), (285.5, 0.95), (288.5, 1.38), (291.5, 0.9), (295.4, 0.574), (298.5, 1.0),
           (301.5, 1.85), (304, 0.8), (306.7, 0.33), (308.8, 1.2), (310.2, 3.3), (311.1, 4.2), (312, 2.5),
           (313, 0.6), (314, 0.1), (315.5, 0.01), (330, 0.0), (366, 0.0), (368.5, 0.1), (370.2, 1.2), (371.0, 2.8),
           (371.6, 3.7), (372.3, 2.6), (373.5, 1.0), (375, 0.6), (376.5, 0.504), (378.8, 0.9), (380.8, 1.4),
           (382.1, 1.635), (384, 1.3), (386.5, 0.9), (389.1, 0.765), (392, 1.0), (394.5, 1.27), (397, 1.1),
           (400, 0.94)]
p6_tsq = [(100, 0.713), (103.5, 0.87), (107.4, 1.0), (111, 0.9), (114.8, 0.852), (119, 0.92), (122.9, 1.0),
          (126.5, 0.92), (130.3, 0.887), (134.5, 0.93), (138.1, 1.0), (142, 0.93), (146.2, 0.89), (150, 0.93),
          (153.8, 1.0), (157.5, 0.93), (161.4, 0.89), (165.5, 0.93), (169.1, 1.0), (173, 0.93), (176.7, 0.89),
          (180.5, 0.93), (184.3, 1.0), (188, 0.93), (191.9, 0.89), (196, 0.93), (199.6, 1.0), (203.3, 0.93),
          (207.2, 0.89), (211, 0.93), (214.8, 1.0), (218.5, 0.93), (222.4, 0.89), (226, 0.93), (229.6, 1.0),
          (233.5, 0.93), (237.7, 0.885), (241.5, 0.93), (244.9, 1.0), (248.8, 0.92), (252.9, 0.875),
          (256.5, 0.92), (259.9, 1.0), (263.5, 0.91), (267.1, 0.86), (271, 0.92), (274.1, 1.0), (277.5, 0.9),
          (281.3, 0.84), (285.5, 0.92), (288.5, 1.0), (291.5, 0.88), (295.4, 0.8), (298.5, 0.93), (301.5, 1.0),
          (304, 0.8), (306.7, 0.6), (309, 0.9), (310.5, 1.0), (312, 0.6), (313.5, 0.15), (315.5, 0.0),
          (366, 0.0), (368.5, 0.2), (370.2, 0.8), (371.2, 1.0), (372.3, 0.8), (374, 0.58), (376.5, 0.55),
          (379, 0.8), (382.1, 1.0), (385, 0.85), (389.1, 0.75), (392, 0.88), (394.5, 1.0), (397, 0.95),
          (400, 0.9)]

# Panel ylimits and tick spacing (major, minor) read from the frames
panel_ylim = [(-0.059, 2.673), (-0.144, 6.897), (-0.35, 17.97),
              (-0.027, 1.329), (-0.042, 2.015), (-0.087, 4.563)]
panel_yticks = [(0.5, 0.1), (1, 0.2), (2.5, 0.5),
                (0.2, 0.05), (0.5, 0.1), (1, 0.2)]

labels_up = [r"$\tau_g$ ↑ [$\tau_0$]",
             r"$\left|R_1\,\right|^2\tau_{\rm gr}$ ↑ [$\tau_0$]",
             r"$\left|R_1\,\right|^2$ ↑",
             r"$\left|T_3\,\right|^2\tau_{\rm gt}$ ↑ [$\tau_0$]",
             r"$\left|T_3\,\right|^2$ ↑"]
labels_down = [r"$\tau_g$ ↓ [$\tau_0$]",
               r"$\left|R_1\,\right|^2\tau_{\rm gr}$ ↓ [$\tau_0$]",
               r"$\left|R_1\,\right|^2$ ↓",
               r"$\left|T_3\,\right|^2\tau_{\rm gt}$ ↓ [$\tau_0$]",
               r"$\left|T_3\,\right|^2$ ↓↑"]

# line styles: (colour, linestyle, width)
DOT = (0, (1.8, 1.4))
styles = [(BLACK, "-", 1.8), (RED, "-", 1.3), (RED, DOT, 1.3), (GREEN, "-", 1.3), (GREEN, DOT, 1.3)]


def style_axes(ax, ylim, yt, bottom_row):
    """Mathematica-like frame: grey box, inward ticks on all four sides"""
    ax.set_xlim(*x_limits)
    ax.set_ylim(*ylim)
    ax.xaxis.set_major_locator(MultipleLocator(x_major))
    ax.xaxis.set_minor_locator(MultipleLocator(x_minor))
    ax.yaxis.set_major_locator(MultipleLocator(yt[0]))
    ax.yaxis.set_minor_locator(MultipleLocator(yt[1]))
    for sp in ax.spines.values():
        sp.set_color(GRAY)
        sp.set_linewidth(1.1)
    ax.tick_params(which="both", direction="in", top=True, right=True, color=GRAY, width=1.0,
                   labelcolor=GRAY, labelsize=13)
    ax.tick_params(which="major", length=5)
    ax.tick_params(which="minor", length=2.5)
    if bottom_row:
        ax.set_xlabel("Incident energy [meV]", color=GRAY, fontsize=13)
    else:
        ax.tick_params(labelbottom=False)


def draw_panel(ax, series):
    # order: tau_g, |R|^2 tau, |R|^2, |T|^2 tau, |T|^2
    for pts, (col, ls, lw) in zip(series, styles):
        arr = np.array(pts)
        ax.plot(arr[:, 0], arr[:, 1], color=col, linestyle=ls, linewidth=lw)


fig = plt.figure(figsize=(13.72, 7.45), dpi=200)

col_left = [0.0426, 0.3236, 0.6068]
ax_w = 0.2396
row_bottom = [0.547, 0.0701]
ax_h = 0.4408

panels = [
    [p1_tg, p1_rtau, p1_rsq, p1_ttau, p1_tsq],
    [p2_tg, p2_rtau, p2_rsq, p2_ttau, p2_tsq],
    [p3_tg, p3_rtau, p3_rsq, p3_ttau, p3_tsq],
    [p4_tg, p4_rtau, p4_rsq, p4_ttau, p4_tsq],
    [p5_tg, p5_rtau, p5_rsq, p5_ttau, p5_tsq],
    [p6_tg, p6_rtau, p6_rsq, p6_ttau, p6_tsq],
]

for i, series in enumerate(panels):
    r, c = divmod(i, 3)
    ax = fig.add_axes([col_left[c], row_bottom[r], ax_w, ax_h])
    draw_panel(ax, series)
    style_axes(ax, panel_ylim[i], panel_yticks[i], bottom_row=(r == 1))

# legends (proxy handles)
handles = [Line2D([], [], color=col, linestyle=ls, linewidth=1.5) for col, ls, lw in styles]
fig.legend(handles, labels_up, loc="upper left", bbox_to_anchor=(0.867, 0.874), frameon=False,
           fontsize=12, handlelength=2.45, handletextpad=0.45, labelspacing=0.8, borderpad=0, borderaxespad=0)
fig.legend(handles, labels_down, loc="upper left", bbox_to_anchor=(0.865, 0.37), frameon=False,
           fontsize=11, handlelength=2.45, handletextpad=0.45, labelspacing=0.78, borderpad=0, borderaxespad=0)

fig.savefig("out.png", dpi=200)
